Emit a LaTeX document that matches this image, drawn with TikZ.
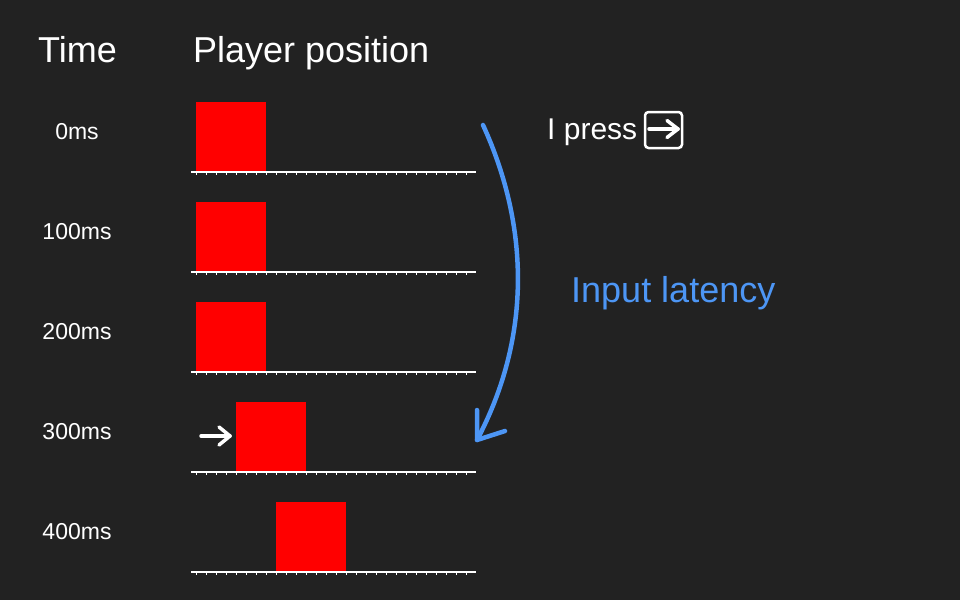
\documentclass[tikz,border=0pt]{standalone}
\usepackage{fontspec}
\setmainfont{Liberation Sans}
\usetikzlibrary{positioning,arrows.meta,calc}
\definecolor{fundo}{HTML}{222222}
\definecolor{azul}{RGB}{77,150,245}

\begin{document}
\begin{tikzpicture}[
      x=1pt, y=-1pt,
      titulo/.style={text=white, inner sep=0pt, anchor=base west,
                     font=\fontsize{36}{43}\selectfont},
      rotulo/.style={text=white, inner sep=0pt, anchor=base,
                     font=\fontsize{23}{27}\selectfont},
      bloco/.style={fill=red, draw=none, inner sep=0pt, anchor=south west,
                    minimum width=70pt, minimum height=70pt},
      regua/.style={draw=white, line width=1.5pt},
      marca/.style={draw=white, line width=1pt},
      flecha/.style={draw=white, line width=3.5pt, line cap=round, line join=round},
      tecla/.style={draw=white, line width=2.5pt, rounded corners=3.5pt,
                    minimum width=37pt, minimum height=36pt, inner sep=0pt},
      lat/.style={draw=azul, line width=4.5pt, line cap=round, line join=round}
    ]
    \useasboundingbox[fill=fundo] (0,0) rectangle (960,600);

    \node[titulo] (tempo) at (38,62) {Time};
    \node[titulo] (pos) at (193,62) {Player position};

    % uma linha por instante: rotulo, bloco vermelho e regua
    \foreach \i/\t/\sx in {0/0ms/196, 1/100ms/196, 2/200ms/196,
                           3/300ms/236, 4/400ms/276} {
      \node[rotulo] (t\i) at (77,139+100*\i) {\t};
      \node[bloco] (b\i) at (\sx,172+100*\i) {};
      \draw[regua] (191,172+100*\i) coordinate (r\i a) -- (476,172+100*\i) coordinate (r\i b);
      \foreach \k in {0,...,27}
        {\draw[marca] (196+10*\k,172+100*\i) -- ++(0,3);}
    }

    % seta branca antes do bloco que se moveu
    \coordinate (m0) at (201,436);
    \coordinate (m1) at (b3.west |- m0);
    \draw[flecha] (m0) -- ($(m1)+(-6,0)$) coordinate (mt);
    \draw[flecha] (mt) ++(-11,-9) -- (mt) -- ++(-11,9);

    \node[text=white, inner sep=0pt, anchor=base west,
          font=\fontsize{30}{36}\selectfont] (aperto) at (547,139) {I press};
    \node[tecla] (tecla) at (663.5,130) {};
    \draw[flecha] ($(tecla.center)+(-14.5,-1)$) -- ($(tecla.center)+(14.5,-1)$) coordinate (kt);
    \draw[flecha] (kt) ++(-11,-8.5) -- (kt) -- ++(-11,8.5);

    % latencia
    \coordinate (l0) at (483,125);
    \coordinate (l1) at (477,440);
    \draw[lat] (l0) .. controls (531,230) and (530,340) .. (l1);
    \draw[lat] (l1) ++(0,-30) -- (l1) -- ++(28,-9);
    \node[text=azul, inner sep=0pt, anchor=base west,
          font=\fontsize{36}{43}\selectfont] (latencia) at (571,302) {Input latency};
  \end{tikzpicture}
\end{document}
